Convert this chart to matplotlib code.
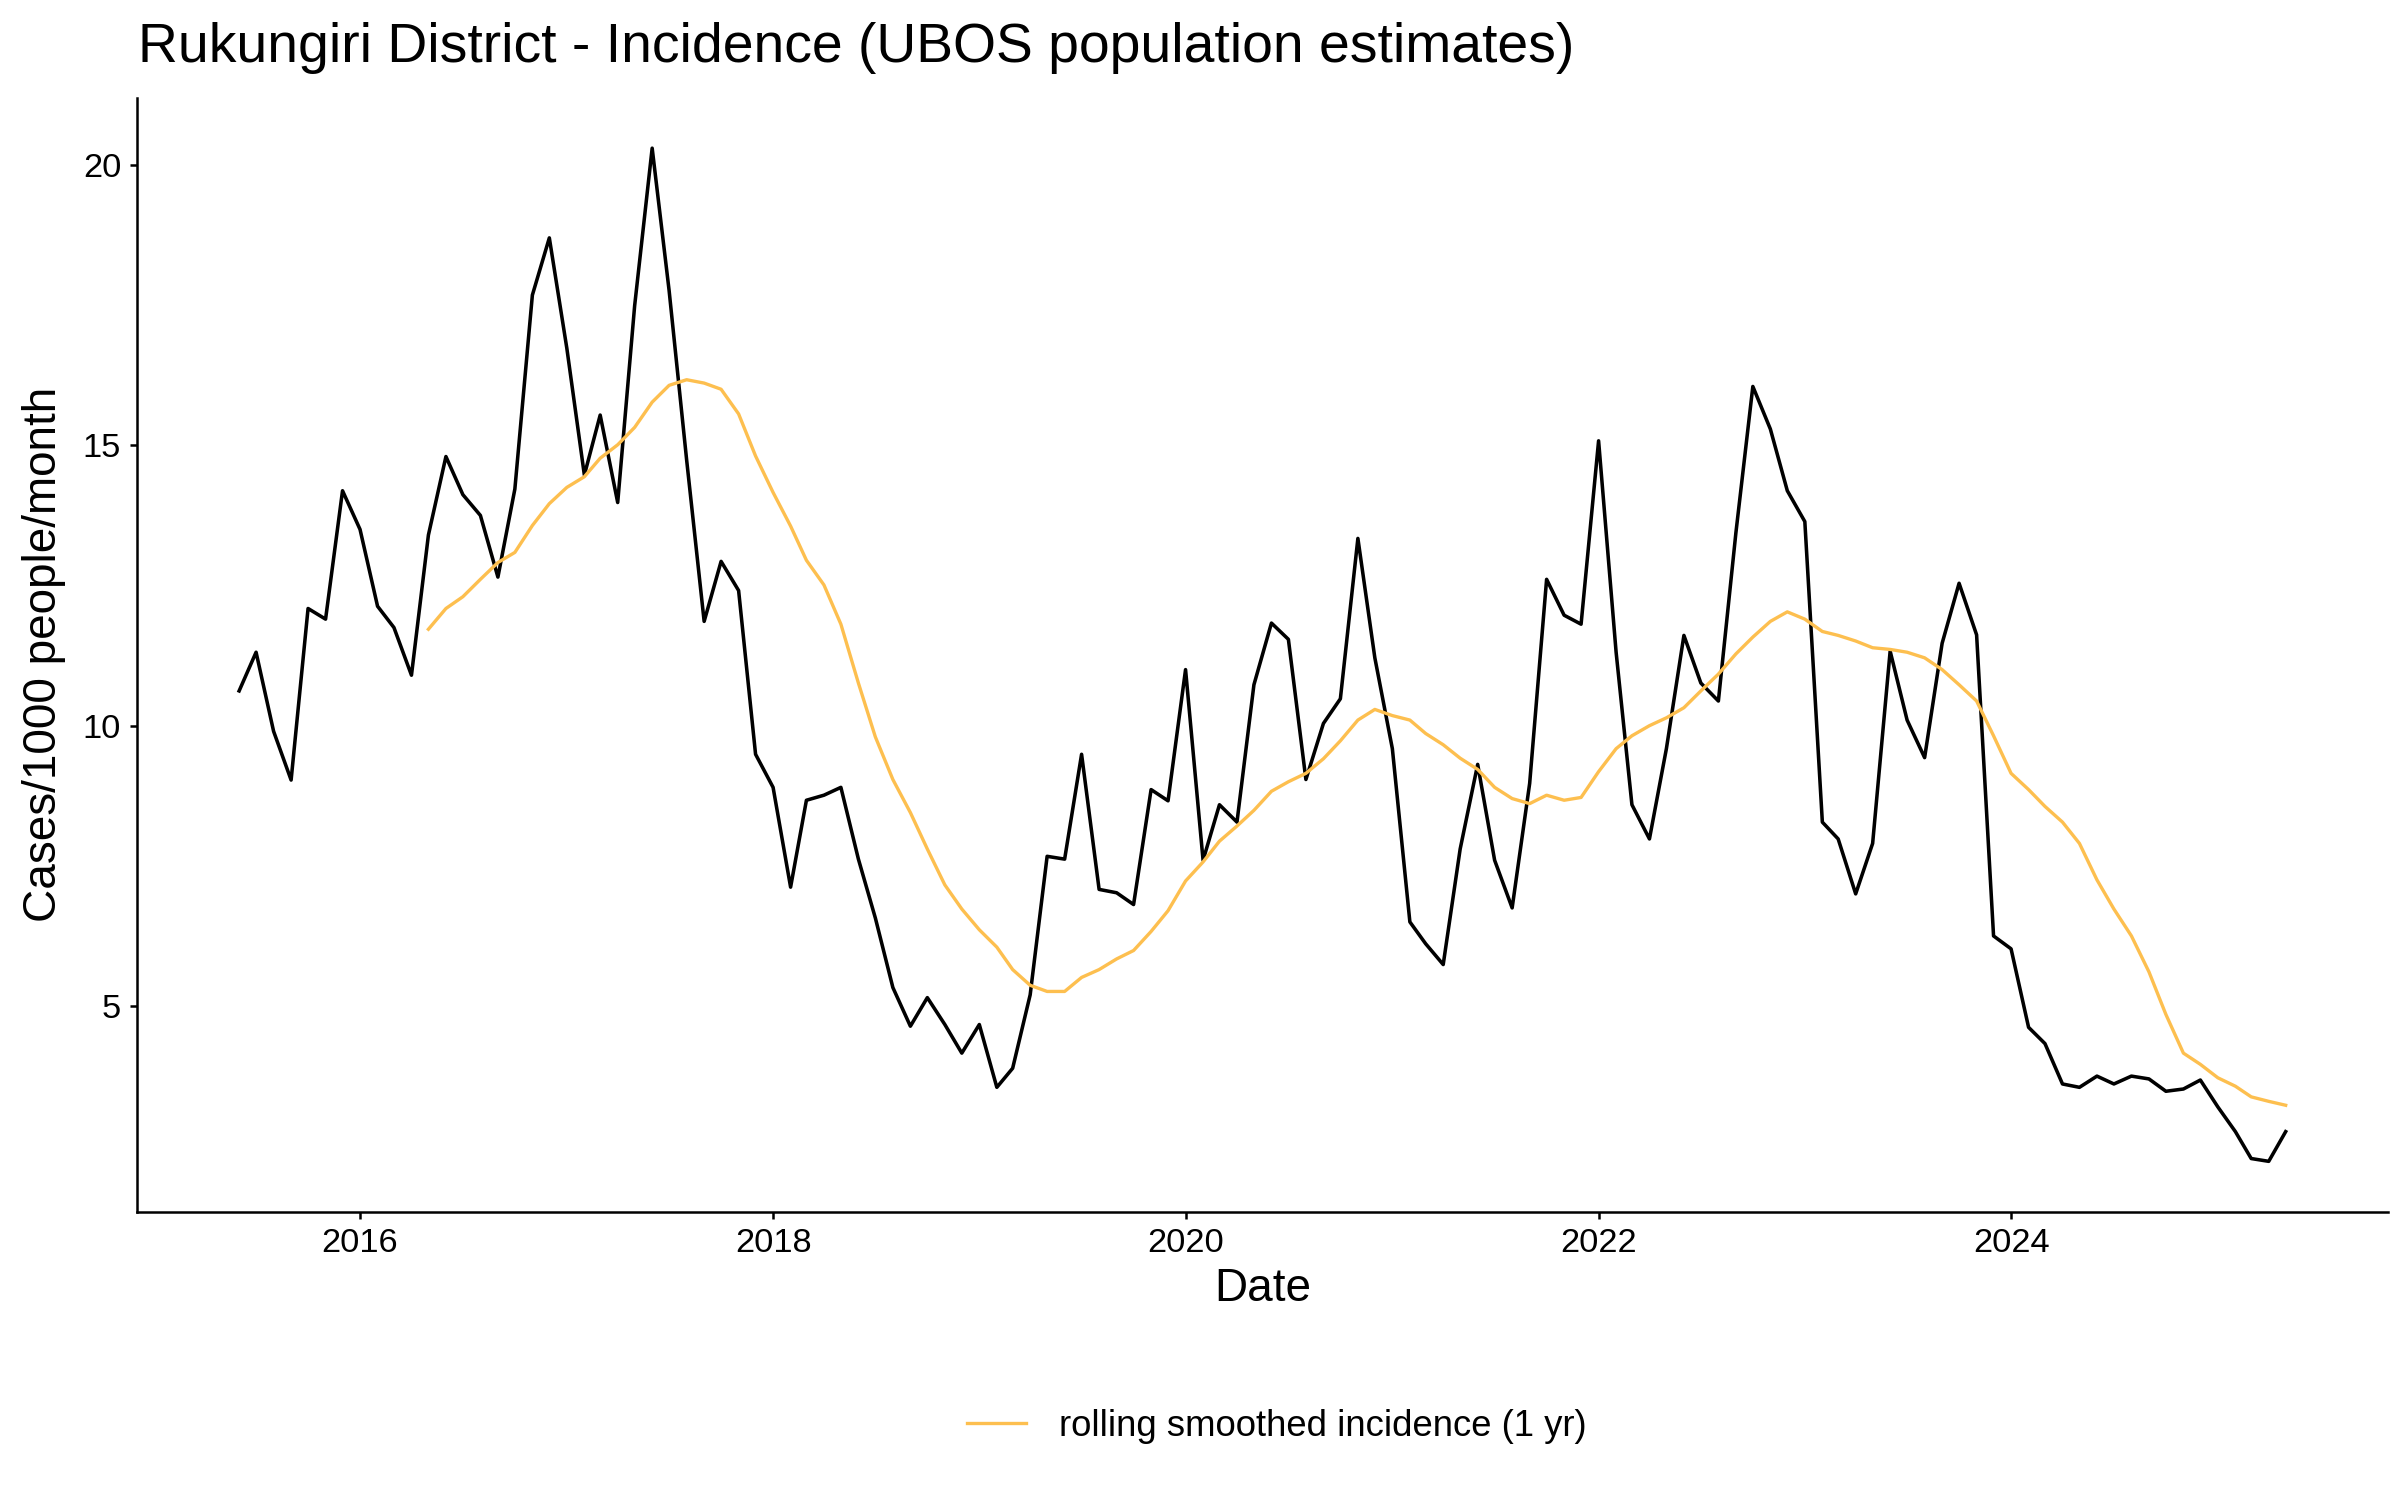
"""Rukungiri District monthly incidence with 1-year rolling smoothed incidence."""

import matplotlib
matplotlib.use("Agg")
import matplotlib.dates as mdates
import matplotlib.pyplot as plt
import pandas as pd

# Monthly incidence, Jun 2015 .. May 2025 (cases/1000 people/month).
incidence = [
    10.62, 11.31, 9.90, 9.03, 12.09, 11.90, 14.19,
    13.50, 12.13, 11.75, 10.90, 13.40, 14.80, 14.12, 13.75, 12.65, 14.22, 17.68, 18.70,
    16.73, 14.47, 15.54, 13.98, 17.49, 20.30, 17.76, 14.74, 11.86, 12.93, 12.41, 9.49,
    8.90, 7.12, 8.67, 8.76, 8.90, 7.62, 6.57, 5.33, 4.64, 5.15, 4.67, 4.16,
    4.67, 3.55, 3.89, 5.20, 7.67, 7.62, 9.49, 7.08, 7.02, 6.81, 8.86, 8.66,
    11.00, 7.60, 8.59, 8.28, 10.73, 11.83, 11.54, 9.04, 10.04, 10.48, 13.34, 11.21,
    9.59, 6.50, 6.11, 5.74, 7.80, 9.31, 7.60, 6.75, 8.97, 12.61, 11.97, 11.81,
    15.08, 11.31, 8.59, 7.98, 9.59, 11.61, 10.76, 10.44, 13.44, 16.05, 15.29, 14.19,
    13.64, 8.28, 7.98, 7.00, 7.90, 11.33, 10.10, 9.43, 11.47, 12.54, 11.62, 6.25,
    6.02, 4.62, 4.33, 3.61, 3.55, 3.75, 3.61, 3.75, 3.70, 3.48, 3.52, 3.68,
    3.20, 2.76, 2.28, 2.23, 2.76,
]

# Rolling smoothed incidence (1 yr), May 2016 .. May 2025.
smoothed = [
    11.72, 12.09, 12.30, 12.61, 12.91, 13.09, 13.57, 13.96,
    14.25, 14.44, 14.77, 15.01, 15.32, 15.77, 16.07, 16.17, 16.11, 16.00, 15.56, 14.81,
    14.16, 13.56, 12.95, 12.51, 11.81, 10.76, 9.80, 9.04, 8.45, 7.80, 7.16, 6.73,
    6.36, 6.05, 5.65, 5.37, 5.26, 5.26, 5.51, 5.65, 5.84, 5.99, 6.33, 6.70,
    7.23, 7.57, 7.94, 8.21, 8.49, 8.83, 9.00, 9.15, 9.41, 9.73, 10.10, 10.29,
    10.18, 10.10, 9.86, 9.66, 9.42, 9.22, 8.90, 8.70, 8.61, 8.76, 8.67, 8.72,
    9.18, 9.59, 9.82, 10.00, 10.14, 10.32, 10.62, 10.92, 11.28, 11.58, 11.86, 12.03,
    11.90, 11.68, 11.61, 11.51, 11.39, 11.36, 11.31, 11.21, 11.00, 10.73, 10.44, 9.82,
    9.15, 8.86, 8.56, 8.28, 7.90, 7.25, 6.73, 6.25, 5.61, 4.85, 4.16, 3.96,
    3.72, 3.57, 3.38, 3.30, 3.23,
]

dates = pd.date_range("2015-06-01", "2025-05-01", freq="MS")
smooth_dates = pd.date_range("2016-05-01", "2025-05-01", freq="MS")

plt.rcParams["font.family"] = ["Liberation Sans", "DejaVu Sans"]

fig = plt.figure(figsize=(16, 10), dpi=150)
ax = fig.add_axes([0.057, 0.192, 0.938, 0.743])

ax.plot(dates, incidence, color="black", lw=1.7)
ax.plot(smooth_dates, smoothed, color="#FDBF4F", lw=1.6,
        label="rolling smoothed incidence (1 yr)")

ax.margins(x=0.05, y=0.05)
ax.set_yticks([5, 10, 15, 20])
ax.xaxis.set_major_locator(mdates.YearLocator(2))
ax.xaxis.set_major_formatter(mdates.DateFormatter("%Y"))

for side in ("top", "right"):
    ax.spines[side].set_visible(False)
for side in ("left", "bottom"):
    ax.spines[side].set_linewidth(1.2)
ax.tick_params(axis="both", length=3.5, width=1.2, labelsize=16.5,
               colors="black", pad=4)

ax.set_xlabel("Date", fontsize=22, labelpad=4)
ax.set_ylabel("Cases/1000 people/month", fontsize=22, labelpad=8)

fig.text(0.0575, 1 - 62 / 1500, "Rukungiri District - Incidence (UBOS population estimates)",
         fontsize=26.5, ha="left", va="baseline")

fig.legend(loc="center", bbox_to_anchor=(0.532, 0.049), frameon=False,
           fontsize=17.5, handlelength=1.6, handletextpad=0.9)

fig.savefig("out.png", dpi=150)
